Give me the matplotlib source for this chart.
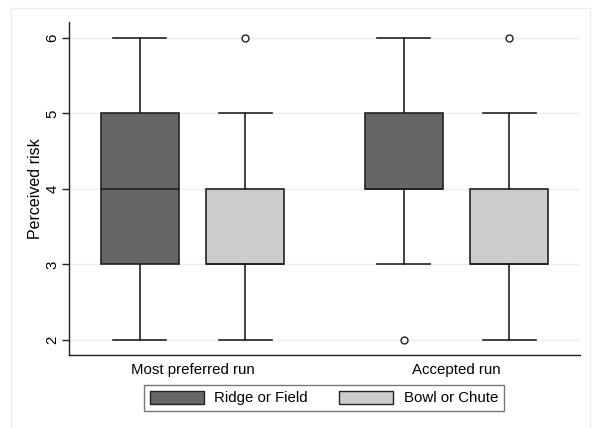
import matplotlib.pyplot as plt
from matplotlib.patches import Patch, Rectangle

plt.rcParams['font.family'] = ['Liberation Sans', 'DejaVu Sans']

groups = ["Most preferred run", "Accepted run"]
series = ["Ridge or Field", "Bowl or Chute"]
colors = ["#666666", "#cccccc"]

# per series, per group: whislo, q1, med, q3, whishi, outliers
ridge_lo = [2, 3]
ridge_q1 = [3, 4]
ridge_med = [4, 4]
ridge_q3 = [5, 5]
ridge_hi = [6, 6]
ridge_out = [[], [2]]

bowl_lo = [2, 2]
bowl_q1 = [3, 3]
bowl_med = [3, 3]
bowl_q3 = [4, 4]
bowl_hi = [5, 5]
bowl_out = [[6], [6]]

fig = plt.figure(figsize=(5.92, 4.28), dpi=100)
# outer light frame like Stata
fig.patches.append(Rectangle((11 / 592, -0.05), 579 / 592, 1.05 - 8 / 428,
                             transform=fig.transFigure, fill=False,
                             edgecolor="#e8eff1", linewidth=1))
ax = fig.add_axes([69 / 592, 1 - 355 / 428, 511 / 592, 333 / 428])

positions = [[1.0, 3.5], [2.0, 4.5]]
data = [(ridge_lo, ridge_q1, ridge_med, ridge_q3, ridge_hi, ridge_out),
        (bowl_lo, bowl_q1, bowl_med, bowl_q3, bowl_hi, bowl_out)]

for s, (lo, q1, med, q3, hi, out) in enumerate(data):
    stats = []
    for g in range(len(groups)):
        stats.append(dict(whislo=lo[g], q1=q1[g], med=med[g], q3=q3[g],
                          whishi=hi[g], fliers=out[g]))
    ax.bxp(stats, positions=positions[s], widths=0.74, patch_artist=True,
           showfliers=True,
           boxprops=dict(facecolor=colors[s], edgecolor="#222222", linewidth=1.2),
           medianprops=dict(color="#222222", linewidth=1.2),
           whiskerprops=dict(color="#222222", linewidth=1.2),
           capprops=dict(color="#222222", linewidth=1.2),
           capwidths=0.5,
           flierprops=dict(marker="o", markersize=5, markerfacecolor="white",
                           markeredgecolor="#222222", markeredgewidth=1))

ax.set_xlim(0.33, 5.17)
ax.set_ylim(1.8, 6.21)
ax.set_yticks([2, 3, 4, 5, 6])
ax.set_yticklabels(["2", "3", "4", "5", "6"], rotation=90, va="center", fontsize=10.8)
ax.set_xticks([1.5, 4.0])
ax.set_xticklabels(groups, fontsize=10.8)
ax.tick_params(axis="x", length=0, pad=6)
ax.tick_params(axis="y", length=5, width=1, color="#222222", pad=2)
ax.set_ylabel("Perceived risk", fontsize=11.5, labelpad=2)
ax.grid(axis="y", color="#e6f0f0", linewidth=1)
ax.set_axisbelow(True)
for sp in ["top", "right"]:
    ax.spines[sp].set_visible(False)
for sp in ["left", "bottom"]:
    ax.spines[sp].set_color("#222222")
    ax.spines[sp].set_linewidth(1)

handles = [Patch(facecolor=colors[i], edgecolor="#222222", label=series[i])
           for i in range(len(series))]
fig.legend(handles=handles, loc="center", bbox_to_anchor=(324 / 592, 1 - 398 / 428),
           ncol=2, fontsize=10.8, frameon=True, fancybox=False, edgecolor="#555555",
           handlelength=3.6, handleheight=1.0, columnspacing=2.1,
           borderpad=0.4, handletextpad=0.7)

fig.savefig("out.png", dpi=100)
